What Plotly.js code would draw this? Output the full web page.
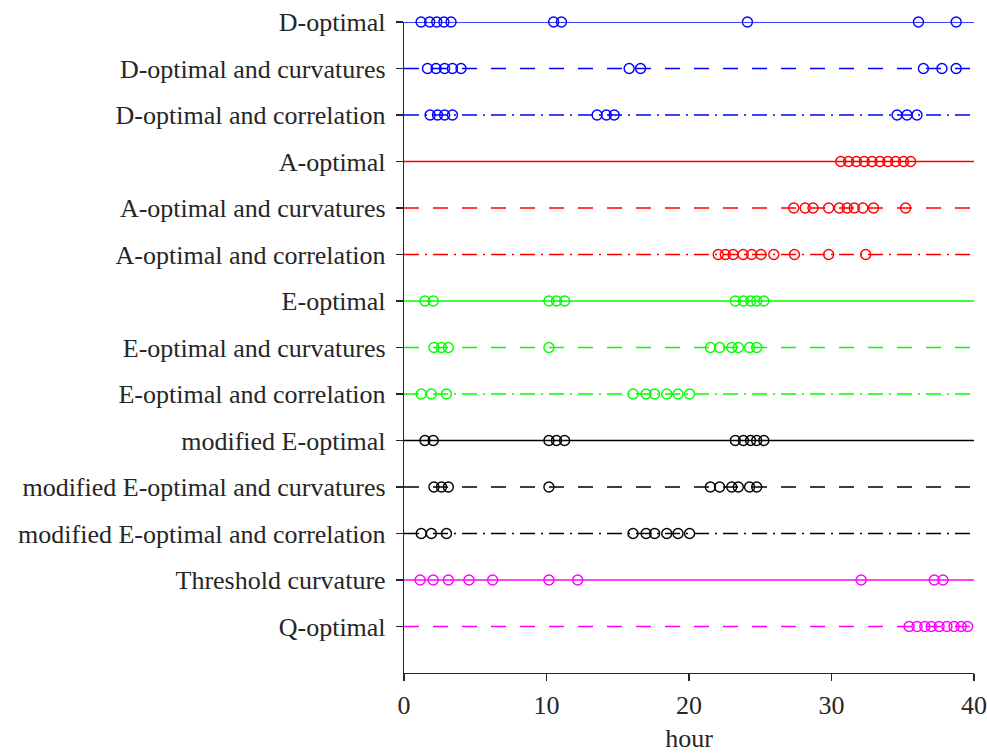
<!DOCTYPE html>
<html>
<head>
<meta charset="utf-8">
<script src="https://cdn.plot.ly/plotly-3.0.1.min.js"></script>
<style>
  html, body { margin: 0; padding: 0; background: #fff; }
  #chart { width: 987px; height: 753px; }
</style>
</head>
<body>
<div id="chart"></div>
<script>
// Row labels, top to bottom
const designs = [
  "D-optimal",
  "D-optimal and curvatures",
  "D-optimal and correlation",
  "A-optimal",
  "A-optimal and curvatures",
  "A-optimal and correlation",
  "E-optimal",
  "E-optimal and curvatures",
  "E-optimal and correlation",
  "modified E-optimal",
  "modified E-optimal and curvatures",
  "modified E-optimal and correlation",
  "Threshold curvature",
  "Q-optimal"
];

// Sampling times (hour) for each design
const dOptimal = [1.2, 1.8, 2.3, 2.8, 3.3, 10.5, 11.05, 24.1, 36.1, 38.75];
const dOptCurv = [1.65, 2.25, 2.85, 3.4, 4.0, 15.8, 16.6, 36.45, 37.75, 38.75];
const dOptCorr = [1.83, 2.35, 2.85, 3.4, 13.55, 14.2, 14.75, 34.6, 35.3, 36.0];
const aOptimal = [30.65, 31.2, 31.75, 32.3, 32.85, 33.4, 33.95, 34.5, 35.05, 35.55];
const aOptCurv = [27.35, 28.15, 28.7, 29.8, 30.55, 31.1, 31.6, 32.2, 32.95, 35.2];
const aOptCorr = [22.05, 22.55, 23.1, 23.8, 24.4, 25.05, 25.95, 27.4, 29.8, 32.4];
const eOptimal = [1.47, 2.05, 10.17, 10.7, 11.27, 23.25, 23.82, 24.32, 24.75, 25.25];
const eOptCurv = [2.1, 2.63, 3.11, 10.17, 21.5, 22.15, 23.0, 23.46, 24.25, 24.75];
const eOptCorr = [1.21, 1.92, 2.98, 16.07, 16.99, 17.59, 18.44, 19.23, 20.04, 40.03];
const modEOptimal = [1.47, 2.05, 10.17, 10.7, 11.27, 23.25, 23.82, 24.32, 24.75, 25.25];
const modEOptCurv = [2.1, 2.63, 3.11, 10.17, 21.5, 22.15, 23.0, 23.46, 24.25, 24.75];
const modEOptCorr = [1.21, 1.92, 2.98, 16.07, 16.99, 17.59, 18.44, 19.23, 20.04, 40.03];
const thresholdCurv = [1.13, 2.05, 3.11, 4.56, 6.22, 10.17, 12.19, 32.08, 37.21, 37.82];
const qOptimal = [35.45, 36.0, 36.55, 37.0, 37.55, 38.1, 38.6, 39.1, 39.55, 40.05];

const hourRange = [0, 40];
const xTicks = [0, 10, 20, 30, 40];

const seriesList = [dOptimal, dOptCurv, dOptCorr, aOptimal, aOptCurv, aOptCorr,
  eOptimal, eOptCurv, eOptCorr, modEOptimal, modEOptCurv, modEOptCorr,
  thresholdCurv, qOptimal];

const colors = ["#0000ff", "#0000ff", "#0000ff", "#ff0000", "#ff0000", "#ff0000",
  "#00ff00", "#00ff00", "#00ff00", "#000000", "#000000", "#000000",
  "#ff00ff", "#ff00ff"];
const DASH = "15px,14px";
const DASHDOT = "15px,6px,2px,6px";
const dashes = ["solid", DASH, DASHDOT, "solid", DASH, DASHDOT,
  "solid", DASH, DASHDOT, "solid", DASH, DASHDOT, "solid", DASH];

const traces = [];
designs.forEach((name, i) => {
  const row = i + 1;
  traces.push({
    x: hourRange, y: hourRange.map(() => row),
    type: "scatter", mode: "lines",
    line: { color: colors[i], width: 1.4, dash: dashes[i] },
    hoverinfo: "skip", showlegend: false, cliponaxis: false
  });
  traces.push({
    x: seriesList[i], y: seriesList[i].map(() => row),
    type: "scatter", mode: "markers", name: name,
    marker: { symbol: "circle-open", size: 10, color: colors[i], line: { width: 1.4, color: colors[i] } },
    showlegend: false, cliponaxis: false
  });
});

const font = { family: "Liberation Serif, Times New Roman, serif", size: 26, color: "#262626" };

const layout = {
  width: 987, height: 753,
  margin: { l: 404, r: 13, t: 22, b: 80 },
  paper_bgcolor: "#ffffff", plot_bgcolor: "#ffffff",
  font: font,
  showlegend: false,
  xaxis: {
    range: hourRange, tickvals: xTicks, ticktext: xTicks.map(String),
    showgrid: false, zeroline: false, showline: true, linecolor: "#262626", linewidth: 1.2,
    ticks: "outside", ticklen: 7, tickwidth: 1.2, tickcolor: "#262626",
    ticklabelstandoff: 2,
    tickfont: font,
    title: { text: "hour", font: font, standoff: 10 }
  },
  yaxis: {
    range: [designs.length + 1, 1],
    tickvals: designs.map((_, i) => i + 1), ticktext: designs,
    showgrid: false, zeroline: false, showline: true, linecolor: "#262626", linewidth: 1.2,
    ticks: "outside", ticklen: 7, tickwidth: 1.2, tickcolor: "#262626",
    ticklabelstandoff: 5,
    tickfont: font
  }
};

Plotly.newPlot("chart", traces, layout, { displayModeBar: false, staticPlot: true });
</script>
</body>
</html>
